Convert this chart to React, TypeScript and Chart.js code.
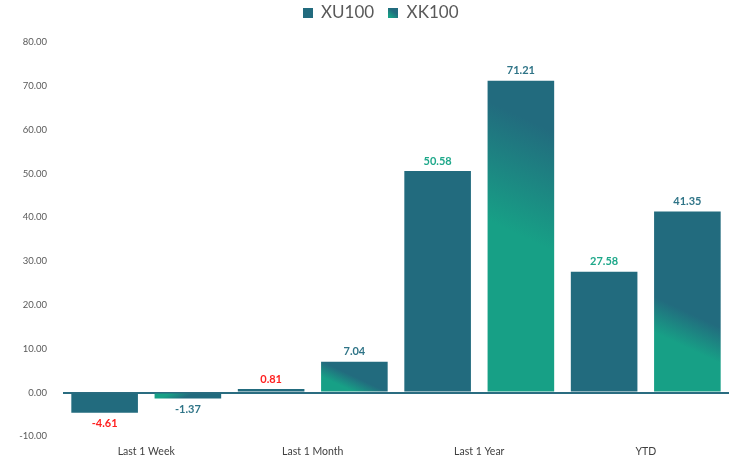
import React, { useEffect, useRef } from 'react';
import { Chart, registerables } from 'chart.js';

Chart.register(...registerables);

// ---- data ----
const categories = ['Last 1 Week', 'Last 1 Month', 'Last 1 Year', 'YTD'];
const seriesNames = ['XU100', 'XK100'];
const xu100Values = [-4.61, 0.81, 50.58, 27.58];
const xk100Values = [-1.37, 7.04, 71.21, 41.35];
const yMin = -10;
const yMax = 80;
const yStep = 10;

// ---- styles ----
const DARK = '#226b7e';
const GREEN = '#17a086';
const RED = '#ff1f1f';
const LABEL_DARK = '#2f7487';
const LABEL_GREEN = '#1ea88a';
const xuLabelColors = [RED, RED, LABEL_GREEN, LABEL_GREEN];
const xkLabelColors = [LABEL_DARK, LABEL_DARK, LABEL_DARK, LABEL_DARK];
const xkGradStops = [
  [0.5, 0.8],
  [0.5, 0.75],
  [0.15, 0.5],
  [0.55, 0.72],
];
const GRAD_ANGLE = (25 * Math.PI) / 180;
const FONT = 'Lato, "Open Sans", sans-serif';
const LEGEND_SHIFT = 16;

function makeSwatch(gradient: boolean): HTMLCanvasElement {
  const c = document.createElement('canvas');
  c.width = 10;
  c.height = 10;
  const g = c.getContext('2d')!;
  if (gradient) {
    const gr = g.createLinearGradient(10, 0, 2, 10);
    gr.addColorStop(0, DARK);
    gr.addColorStop(0.45, DARK);
    gr.addColorStop(0.95, GREEN);
    gr.addColorStop(1, GREEN);
    g.fillStyle = gr;
  } else {
    g.fillStyle = DARK;
  }
  g.fillRect(0, 0, 10, 10);
  return c;
}

const legendShiftPlugin = {
  id: 'legendShift',
  afterLayout(chart: any) {
    const lg = chart.legend;
    if (lg) {
      lg.left += LEGEND_SHIFT;
      lg.right += LEGEND_SHIFT;
    }
  },
};

const gradientPlugin = {
  id: 'barGradient',
  beforeDatasetsDraw(chart: any) {
    const ctx = chart.ctx;
    const meta = chart.getDatasetMeta(1);
    const s = Math.sin(GRAD_ANGLE);
    const c = Math.cos(GRAD_ANGLE);
    meta.data.forEach((el: any, i: number) => {
      const { x, y, base, width } = el.getProps(['x', 'y', 'base', 'width'], true);
      const h = Math.abs(base - y);
      const right = x + width / 2;
      const dirY = y <= base ? c : -c;
      const L = width * s + h * c;
      const gr = ctx.createLinearGradient(right, y, right - s * L, y + dirY * L);
      const [s1, s2] = xkGradStops[i];
      gr.addColorStop(0, DARK);
      gr.addColorStop(s1, DARK);
      gr.addColorStop(s2, GREEN);
      gr.addColorStop(1, GREEN);
      if (el.options && !Object.isFrozen(el.options)) {
        el.options.backgroundColor = gr;
      }
    });
  },
};

const labelPlugin = {
  id: 'valueLabels',
  afterDatasetsDraw(chart: any) {
    const ctx = chart.ctx;
    const colorSets = [xuLabelColors, xkLabelColors];
    ctx.save();
    ctx.font = `bold 11px ${FONT}`;
    ctx.textAlign = 'center';
    ctx.textBaseline = 'middle';
    chart.data.datasets.forEach((ds: any, di: number) => {
      const meta = chart.getDatasetMeta(di);
      meta.data.forEach((el: any, i: number) => {
        const v = ds.data[i] as number;
        const { x, y } = el.getProps(['x', 'y'], true);
        ctx.fillStyle = colorSets[di][i];
        ctx.fillText(v.toFixed(2), x, v >= 0 ? y - 10 : y + 11);
      });
    });
    ctx.restore();
  },
};

export default function App() {
  const ref = useRef<HTMLCanvasElement | null>(null);

  useEffect(() => {
    if (!ref.current) return;
    const swatches = [makeSwatch(false), makeSwatch(true)];
    const chart = new Chart(ref.current, {
      type: 'bar',
      data: {
        labels: categories,
        datasets: [
          {
            label: seriesNames[0],
            data: xu100Values,
            backgroundColor: () => DARK,
            borderWidth: 0,
            categoryPercentage: 1,
            barPercentage: 0.8,
          },
          {
            label: seriesNames[1],
            data: xk100Values,
            backgroundColor: () => GREEN,
            borderWidth: 0,
            categoryPercentage: 1,
            barPercentage: 0.8,
          },
        ],
      },
      options: {
        animation: false,
        responsive: false,
        devicePixelRatio: 1,
        layout: { padding: { top: -10, right: 2, bottom: -6, left: 0 } },
        plugins: {
          legend: {
            position: 'top',
            labels: {
              usePointStyle: true,
              boxWidth: 10,
              boxHeight: 10,
              padding: 14,
              color: '#595959',
              font: { family: FONT, size: 17 },
              generateLabels: () =>
                seriesNames.map((name, i) => ({
                  text: name,
                  fillStyle: DARK,
                  strokeStyle: DARK,
                  lineWidth: 0,
                  pointStyle: swatches[i],
                  hidden: false,
                  datasetIndex: i,
                  fontColor: '#595959',
                })),
            },
          },
          subtitle: {
            display: true,
            text: '',
            weight: 0,
            font: { size: 1 },
            padding: { top: 0, bottom: 10 },
          } as any,
          tooltip: { enabled: false },
        },
        scales: {
          x: {
            grid: { display: false, drawTicks: false },
            border: { display: false },
            ticks: {
              color: '#404040',
              padding: 9,
              font: { family: FONT, size: 10.5 },
            },
          },
          y: {
            min: yMin,
            max: yMax,
            z: 1,
            border: { display: false },
            grid: {
              drawTicks: false,
              color: (c: any) => (c.tick && c.tick.value === 0 ? '#2a6c80' : 'rgba(0,0,0,0)'),
              lineWidth: (c: any) => (c.tick && c.tick.value === 0 ? 2 : 0),
            },
            ticks: {
              stepSize: yStep,
              padding: 16,
              color: '#595959',
              font: { family: FONT, size: 9.5 },
              callback: (v: any) => Number(v).toFixed(2),
            },
            afterFit: (s: any) => {
              s.width = 63;
            },
          },
        },
      },
      plugins: [legendShiftPlugin, gradientPlugin, labelPlugin],
    } as any);
    return () => chart.destroy();
  }, []);

  return (
    <div style={{ position: 'fixed', left: 0, top: 0, width: 731, height: 461, background: '#fff' }}>
      <canvas ref={ref} width={731} height={461} />
    </div>
  );
}
